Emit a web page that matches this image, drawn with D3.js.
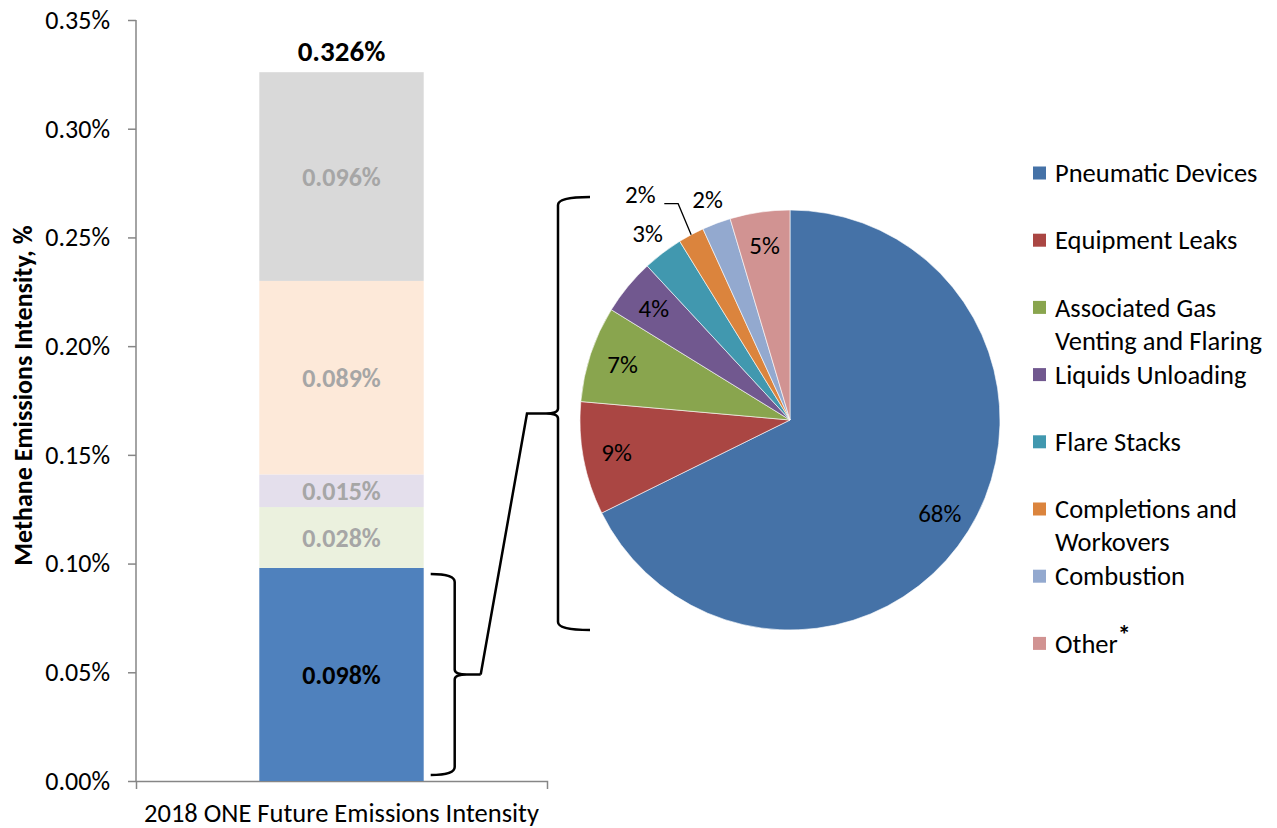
<!DOCTYPE html>
<html><head><meta charset="utf-8">
<script src="https://cdn.jsdelivr.net/npm/d3@7"></script>
<style>
html,body{margin:0;padding:0;background:#fff;}
svg{display:block;font-family:Carlito, Calibri, Lato, "Open Sans", sans-serif;}
</style></head>
<body>
<svg id="chart" width="1277" height="828"></svg>
<script>
// ---------- data ----------
const barCategory = ["2018 ONE Future Emissions Intensity"];
const barSegments = ["Production", "Gathering & Boosting", "Processing", "Transmission & Storage", "Distribution"];
const barValues = [0.098, 0.028, 0.015, 0.089, 0.096];       // % methane intensity
const barTotal = 0.326;
const yTicks = [0, 0.05, 0.10, 0.15, 0.20, 0.25, 0.30, 0.35];

const pieCategories = ["Pneumatic Devices", "Equipment Leaks", "Associated Gas Venting and Flaring",
  "Liquids Unloading", "Flare Stacks", "Completions and Workovers", "Combustion", "Other"];
const pieValues = [67.7, 8.7, 7.4, 4.3, 3.1, 2.0, 2.2, 4.6];
const pieLabels = ["68%", "9%", "7%", "4%", "3%", "2%", "2%", "5%"];
const legendLines = [["Pneumatic Devices"], ["Equipment Leaks"], ["Associated Gas", "Venting and Flaring"],
  ["Liquids Unloading"], ["Flare Stacks"], ["Completions and", "Workovers"], ["Combustion"], ["Other"]];

// ---------- styles ----------
const barColors = ["#4F81BD", "#EBF1DE", "#E4DFEC", "#FDE9D9", "#D9D9D9"];
const barLabelColors = ["#000000", "#A6A6A6", "#A6A6A6", "#A6A6A6", "#A6A6A6"];
const pieColors = ["#4572A7", "#AA4643", "#89A54E", "#71588F", "#4198AF", "#DB843D", "#93A9CF", "#D19392"];

const svg = d3.select("#chart");

// ---------- bar chart ----------
const y = d3.scaleLinear().domain([0, 0.35]).range([781, 20]);
const x = d3.scaleBand().domain(barCategory).range([136, 547]).paddingInner(0.6).paddingOuter(0.3);

const yAxis = d3.axisLeft(y).tickValues(yTicks).tickFormat(d => d.toFixed(2) + "%")
  .tickSizeInner(8).tickSizeOuter(0).tickPadding(18);
const gy = svg.append("g").attr("transform", "translate(136,0)").call(yAxis)
  .attr("font-family", null).attr("font-size", null);
gy.selectAll("path,line").attr("stroke", "#868686").attr("stroke-width", 1.5);
gy.selectAll("text").attr("font-size", 26).attr("fill", "#000");
gy.select(".domain").remove();
gy.append("line").attr("x1", 0).attr("x2", 0).attr("y1", y(0)).attr("y2", y(0.35))
  .attr("stroke", "#868686").attr("stroke-width", 1.5);

const xAxis = d3.axisBottom(x).tickSizeInner(0).tickSizeOuter(8).tickPadding(22);
const gx = svg.append("g").attr("transform", `translate(0,${y(0)})`).call(xAxis)
  .attr("font-family", null).attr("font-size", null);
gx.selectAll("path").attr("stroke", "#868686").attr("stroke-width", 1.5);
gx.selectAll("text").attr("font-size", 26.5).attr("fill", "#000");

// stacked segments
const rowObj = {cat: barCategory[0]};
barSegments.forEach((s, i) => rowObj[s] = barValues[i]);
const stacked = d3.stack().keys(barSegments)([rowObj]);

const segG = svg.append("g");
stacked.forEach((layer, i) => {
  const d = layer[0];
  segG.append("rect")
    .attr("x", x(d.data.cat)).attr("width", x.bandwidth())
    .attr("y", y(d[1])).attr("height", y(d[0]) - y(d[1]))
    .attr("fill", barColors[i]);
  segG.append("text")
    .attr("x", x(d.data.cat) + x.bandwidth() / 2)
    .attr("y", (y(d[0]) + y(d[1])) / 2)
    .attr("dy", "0.35em").attr("text-anchor", "middle")
    .attr("font-size", 26).attr("font-weight", "bold")
    .attr("fill", barLabelColors[i])
    .text(barValues[i].toFixed(3) + "%");
});
svg.append("text")
  .attr("x", x(barCategory[0]) + x.bandwidth() / 2).attr("y", y(barTotal) - 11)
  .attr("text-anchor", "middle").attr("font-size", 29).attr("font-weight", "bold")
  .text(barTotal.toFixed(3) + "%");

// y title
svg.append("text")
  .attr("transform", `translate(32,${(y(0) + y(0.35)) / 2 - 5}) rotate(-90)`)
  .attr("text-anchor", "middle").attr("font-size", 26).attr("font-weight", "bold")
  .text("Methane Emissions Intensity, %");

// ---------- pie ----------
const cx = 790, cy = 420, r = 210;
const pie = d3.pie().sort(null).value(d => d)(pieValues);
const arc = d3.arc().innerRadius(0).outerRadius(r);
const pg = svg.append("g").attr("transform", `translate(${cx},${cy})`);
pg.selectAll("path").data(pie).join("path")
  .attr("d", arc).attr("fill", (d, i) => pieColors[i])
  .attr("stroke", "#fff").attr("stroke-width", 0.6);

const inArc = d3.arc().innerRadius(r * 0.84).outerRadius(r * 0.84);
const outArc = d3.arc().innerRadius(r * 1.12).outerRadius(r * 1.12);
pie.forEach((d, i) => {
  const inside = d.value >= 4;
  let [lx, ly] = (inside ? inArc : outArc).centroid(d);
  if (!inside && i === 5) {
    // crowded label: lifted aside with a leader line
    const [ex, ey] = d3.arc().innerRadius(r).outerRadius(r).centroid(d);
    const tx = lx - 39, ty = ly - 18;
    pg.append("path")
      .attr("d", `M${ex},${ey}L${ex - 13},${ey - 31}H${tx + 24}`)
      .attr("fill", "none").attr("stroke", "#000").attr("stroke-width", 1.3);
    lx = tx; ly = ty;
  }
  pg.append("text").attr("x", lx).attr("y", ly).attr("dy", "0.35em")
    .attr("text-anchor", "middle").attr("font-size", 25).attr("fill", "#000")
    .text(pieLabels[i]);
});

// ---------- braces ----------
function brace(x0, xv, xt, y1, y2) {
  const ym = (y1 + y2) / 2;
  const s = Math.sign(xv - x0);
  return `M${x0},${y1}Q${xv},${y1} ${xv},${y1 + 8}` +
         `L${xv},${ym - 5}Q${xv},${ym} ${xv + s * 12},${ym}L${xt},${ym}` +
         `M${xv + s * 12},${ym}Q${xv},${ym} ${xv},${ym + 5}` +
         `L${xv},${y2 - 8}Q${xv},${y2} ${x0},${y2}`;
}
const bx0 = x(barCategory[0]) + x.bandwidth() + 7;
const b1y1 = y(barValues[0]) + 6, b1y2 = y(0) - 6;
const b1tipX = bx0 + 50, b1tipY = (b1y1 + b1y2) / 2;
const px0 = cx - r + 10;
const b2y1 = cy - r - 13, b2y2 = cy + r;
const b2tipX = px0 - 60, b2tipY = (b2y1 + b2y2) / 2;
const braceG = svg.append("g").attr("fill", "none").attr("stroke", "#000").attr("stroke-width", 2.5);
braceG.append("path").attr("d", brace(bx0, bx0 + 24, b1tipX, b1y1, b1y2));
braceG.append("path").attr("d", brace(px0, px0 - 32, b2tipX, b2y1, b2y2));
braceG.append("path").attr("d", `M${b1tipX},${b1tipY}L${b2tipX - 3},${b2tipY}L${b2tipX},${b2tipY}`);

// ---------- legend ----------
const lg = svg.append("g").attr("transform", "translate(1033,173)");
pieCategories.forEach((c, i) => {
  const g = lg.append("g").attr("transform", `translate(0,${i * 67.2})`);
  g.append("rect").attr("x", 0).attr("y", -6.5).attr("width", 13).attr("height", 13).attr("fill", pieColors[i]);
  const t = g.append("text").attr("x", 22).attr("y", 0).attr("font-size", 26.5);
  legendLines[i].forEach((ln, k) => {
    t.append("tspan").attr("x", 22).attr("dy", k === 0 ? "0.35em" : 33).text(ln);
    if (c === "Other") {
      t.append("tspan").attr("font-size", 26).attr("font-weight", "bold").attr("dy", -9).text("*");
    }
  });
});
</script>
</body></html>
